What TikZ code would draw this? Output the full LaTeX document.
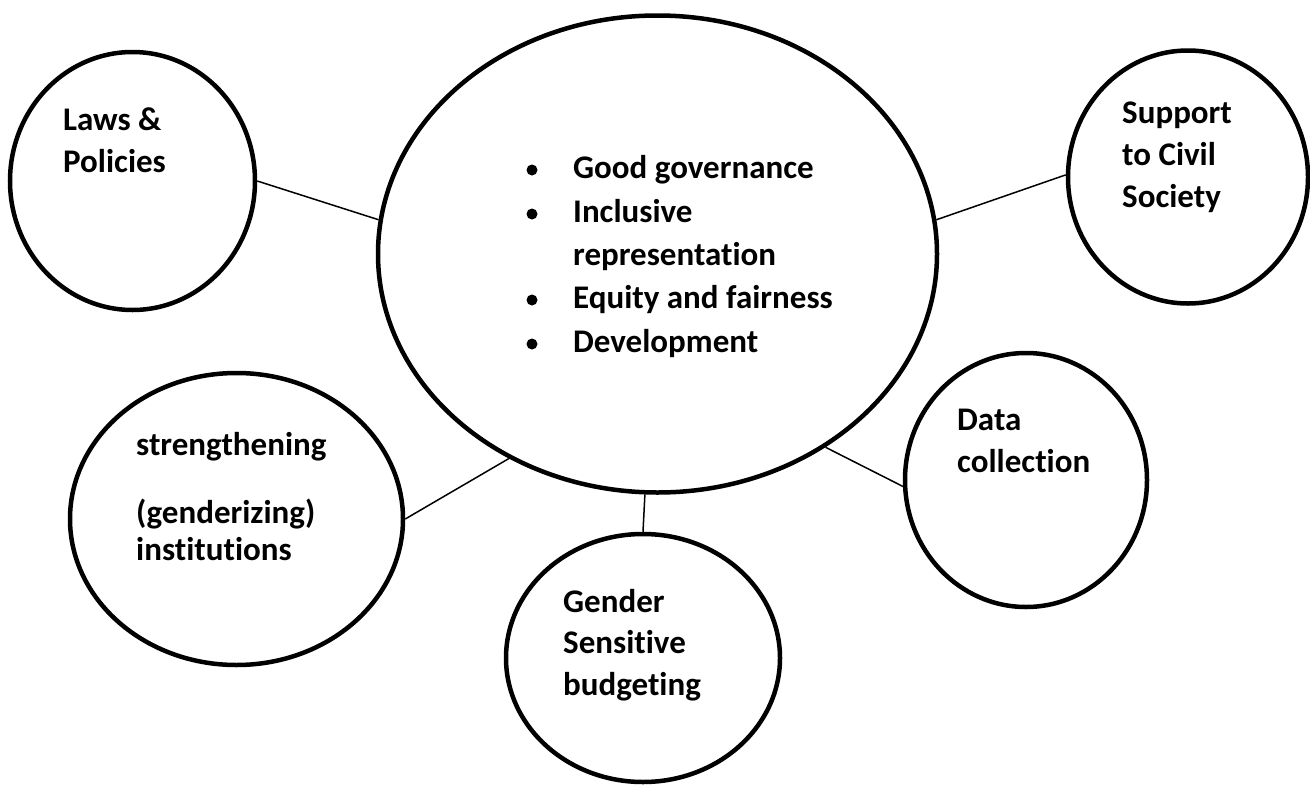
\documentclass[tikz,border=0pt]{standalone}
\usepackage{fontspec}
\setmainfont{Carlito}[Ligatures=NoCommon]
\usetikzlibrary{shapes.geometric}
\begin{document}
\begin{tikzpicture}[x=1pt,y=-1pt,
  bubble/.style={draw, line width=4.5pt, ellipse, inner sep=0pt},
  link/.style={line width=1.5pt},
  lbl/.style={anchor=base west, inner sep=0pt, font=\fontsize{33}{39}\selectfont\bfseries},
  dot/.style={circle, fill, inner sep=0pt, minimum size=11pt}]
\useasboundingbox[fill=white] (0,0) rectangle (1310,790);

% bubbles
\node[bubble, minimum width=559pt, minimum height=477pt] (hub) at (657.5,254) {};
\node[bubble, minimum width=245pt, minimum height=258pt] (laws) at (132.5,181) {};
\node[bubble, minimum width=240pt, minimum height=253pt] (civil) at (1188,177) {};
\node[bubble, minimum width=333pt, minimum height=292pt] (inst) at (236.5,519) {};
\node[bubble, minimum width=274pt, minimum height=248pt] (budget) at (643,658) {};
\node[bubble, minimum width=242pt, minimum height=254pt] (data) at (1026,480) {};

% connectors
\draw[link] (laws.east) -- (hub.173.4);
\draw[link] (hub.7.7) -- (civil.179.5);
\draw[link] (inst.east) -- (hub.234.6);
\draw[link] (hub.267.5) -- (budget.north);
\draw[link] (hub.311.9) -- (data.183);

% central text
\node[dot] (b1) at (532,170) {};
\node[dot] (b2) at (532,214) {};
\node[dot] (b3) at (532,300) {};
\node[dot] (b4) at (532,344) {};
\node[lbl] (h1) at (573,178) {Good governance};
\node[lbl] (h2) at (573,222) {Inclusive};
\node[lbl] (h3) at (573,265) {representation};
\node[lbl] (h4) at (573,308) {Equity and fairness};
\node[lbl] (h5) at (573,352) {Development};

% satellite texts
\node[lbl] (l1) at (63,130) {Laws \&};
\node[lbl] (l2) at (63,172) {Policies};

\node[lbl] (c1) at (1122,123) {Support};
\node[lbl] (c2) at (1122,165) {to Civil};
\node[lbl] (c3) at (1122,207) {Society};

\node[lbl] (i1) at (136,455) {strengthening};
\node[lbl] (i2) at (136,523) {(genderizing)};
\node[lbl] (i3) at (136,560) {institutions};

\node[lbl] (g1) at (563,612) {Gender};
\node[lbl] (g2) at (563,653) {Sensitive};
\node[lbl] (g3) at (563,695) {budgeting};

\node[lbl] (d1) at (957,430) {Data};
\node[lbl] (d2) at (957,472) {collection};
\end{tikzpicture}
\end{document}
